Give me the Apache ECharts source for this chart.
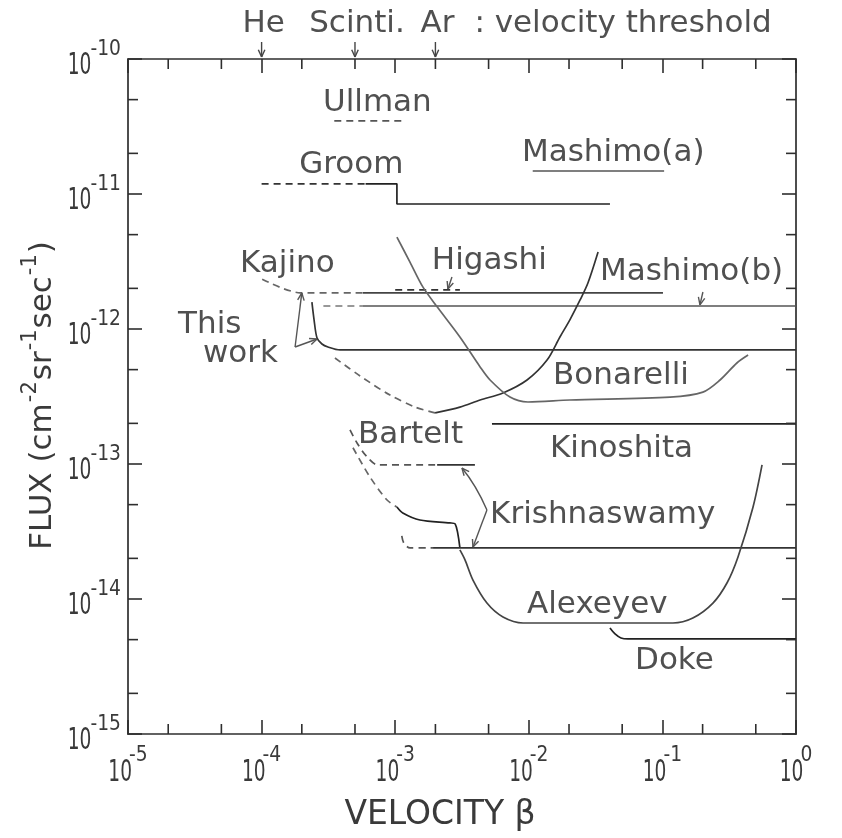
<!DOCTYPE html>
<html>
<head>
<meta charset="utf-8">
<script src="https://cdn.jsdelivr.net/npm/echarts@6/dist/echarts.min.js"></script>
<style>
  html, body { margin: 0; padding: 0; background: #ffffff; }
  #main { width: 842px; height: 838px; }
</style>
</head>
<body>
<div id="main"></div>
<script>
// ---- axis ranges and ticks ----
const betaRange = [1e-5, 1];
const fluxRange = [1e-15, 1e-10];
const majorTicksBeta = [1e-5, 1e-4, 1e-3, 1e-2, 1e-1, 1];
const majorTicksFlux = [1e-15, 1e-14, 1e-13, 1e-12, 1e-11, 1e-10];
const minorTicksBeta = [2e-5, 5e-5, 2e-4, 5e-4, 2e-3, 5e-3, 2e-2, 5e-2, 2e-1, 5e-1];
const minorTicksFlux = [2e-15, 5e-15, 2e-14, 5e-14, 2e-13, 5e-13, 2e-12, 5e-12, 2e-11, 5e-11];

// velocity thresholds marked above the top axis
const thresholdNames = ['He', 'Scinti.', 'Ar'];
const thresholdBeta = [1e-4, 5e-4, 2e-3];
const thresholdNote = ': velocity threshold';

// ---- flux limits, [beta, flux] ----
const ullman = [[3.5e-4, 3.48e-11], [1.18e-3, 3.48e-11]];
const groomDashed = [[1.0e-4, 1.19e-11], [6.0e-4, 1.19e-11]];
const groomSolid = [[6.0e-4, 1.19e-11], [1.03e-3, 1.19e-11], [1.03e-3, 8.43e-12], [4.05e-2, 8.43e-12]];
const mashimoA = [[1.07e-2, 1.48e-11], [1.03e-1, 1.48e-11]];
const kajinoDashed = [[1.01e-4, 2.34e-12], [1.16e-4, 2.19e-12], [1.42e-4, 2.01e-12], [1.69e-4, 1.90e-12], [1.94e-4, 1.85e-12], [5.74e-4, 1.85e-12]];
const kajinoSolid = [[5.74e-4, 1.85e-12], [1.01e-1, 1.85e-12]];
const higashi = [[1.0e-3, 1.95e-12], [3.05e-3, 1.95e-12]];
const mashimoBDashed = [[2.9e-4, 1.48e-12], [5.74e-4, 1.48e-12]];
const mashimoBSolid = [[5.74e-4, 1.48e-12], [1, 1.48e-12]];
const thisWork = [[2.38e-4, 1.58e-12], [2.47e-4, 1.17e-12], [2.60e-4, 8.57e-13], [2.83e-4, 7.74e-13], [3.14e-4, 7.36e-13], [3.86e-4, 7.0e-13], [1, 7.0e-13]];
const monopoleDashed = [[3.54e-4, 6.10e-13], [5.46e-4, 4.49e-13], [9.14e-4, 3.24e-13], [1.41e-3, 2.64e-13], [1.99e-3, 2.39e-13]];
const monopoleSolid = [[1.99e-3, 2.39e-13], [3.05e-3, 2.64e-13], [4.32e-3, 2.98e-13], [6.41e-3, 3.36e-13], [9.70e-3, 4.19e-13], [1.37e-2, 5.89e-13], [1.71e-2, 8.73e-13], [2.03e-2, 1.17e-12], [2.42e-2, 1.64e-12], [2.77e-2, 2.19e-12], [3.30e-2, 3.72e-12]];
const bonarelli = [[1.03e-3, 4.80e-12], [1.29e-3, 3.13e-12], [1.61e-3, 2.05e-12], [2.06e-3, 1.46e-12], [3.05e-3, 8.73e-13], [4.32e-3, 5.24e-13], [5.13e-3, 4.19e-13], [7.23e-3, 3.13e-13], [9.86e-3, 2.88e-13], [2.03e-2, 2.98e-13], [1.14e-1, 3.13e-13], [2.01e-1, 3.41e-13], [2.70e-1, 4.19e-13], [3.61e-1, 5.60e-13], [4.38e-1, 6.41e-13]];
const kinoshita = [[5.3e-3, 1.98e-13], [1, 1.98e-13]];
const barteltDashed = [[4.59e-4, 1.79e-13], [5.18e-4, 1.43e-13], [6.15e-4, 1.13e-13], [7.43e-4, 9.84e-14], [2.06e-3, 9.84e-14]];
const barteltSolid = [[2.06e-3, 9.84e-14], [3.95e-3, 9.84e-14]];
const krishUpperDashed = [[4.83e-4, 1.32e-13], [6.47e-4, 8.02e-14], [8.69e-4, 5.41e-14], [1.03e-3, 4.80e-14]];
const krishUpperSolid = [[1.03e-3, 4.80e-14], [1.14e-3, 4.34e-14], [1.53e-3, 3.85e-14], [2.57e-3, 3.66e-14], [2.81e-3, 3.60e-14], [3.05e-3, 2.39e-14]];
const krishLowerDashed = [[1.12e-3, 2.93e-14], [1.16e-3, 2.60e-14], [1.29e-3, 2.39e-14], [1.92e-3, 2.39e-14]];
const krishLowerSolid = [[1.92e-3, 2.39e-14], [1, 2.39e-14]];
const alexeyev = [[3.05e-3, 2.31e-14], [3.33e-3, 1.95e-14], [3.82e-3, 1.38e-14], [4.86e-3, 9.33e-15], [6.41e-3, 7.36e-15], [9.06e-3, 6.64e-15], [1.20e-1, 6.64e-15], [1.69e-1, 7.23e-15], [2.39e-1, 9.33e-15], [3.05e-1, 1.32e-14], [3.68e-1, 2.05e-14], [4.77e-1, 4.80e-14], [5.57e-1, 9.84e-14]];
const doke = [[4.05e-2, 6.10e-15], [4.42e-2, 5.51e-15], [4.90e-2, 5.14e-15], [5.53e-2, 5.06e-15], [1, 5.06e-15]];

// ---- curve labels: text and its left / middle anchor [beta, flux] ----
const labelTexts = ['Ullman', 'Groom', 'Mashimo(a)', 'Kajino', 'Higashi', 'Mashimo(b)', 'This', 'work', 'Bonarelli', 'Bartelt', 'Kinoshita', 'Krishnaswamy', 'Alexeyev', 'Doke'];
const labelAnchors = [[2.88e-4, 4.89e-11], [1.91e-4, 1.70e-11], [8.89e-3, 2.08e-11], [6.89e-5, 3.13e-12], [1.88e-3, 3.30e-12], [3.41e-2, 2.74e-12], [2.37e-5, 1.11e-12], [3.64e-5, 6.76e-13], [1.52e-2, 4.64e-13], [5.27e-4, 1.70e-13], [1.44e-2, 1.34e-13], [5.13e-3, 4.34e-14], [9.70e-3, 9.33e-15], [6.24e-2, 3.60e-15]];

// straight pointers [from, to]
const pointerArrows = [
  [[1.78e-4, 7.36e-13], [2.00e-4, 1.85e-12]],
  [[1.78e-4, 7.36e-13], [2.60e-4, 8.43e-13]],
  [[2.66e-3, 2.43e-12], [2.48e-3, 1.98e-12]],
  [[2.01e-1, 1.88e-12], [1.91e-1, 1.51e-12]]
];
// curved pointers [from, control, to]
const curvedArrows = [
  [[4.86e-3, 4.56e-14], [4.03e-3, 6.98e-14], [3.16e-3, 9.33e-14]],
  [[4.86e-3, 4.56e-14], [4.32e-3, 3.36e-14], [3.82e-3, 2.43e-14]]
];

// ---- drawing ----
const FONT = "'DejaVu Sans', sans-serif";
const INK = '#2e2e2e';
const TEXT = '#505050';

const chart = echarts.init(document.getElementById('main'), null, { renderer: 'canvas' });

function curve(data, color, dashed, smooth) {
  return {
    type: 'line', data: data, xAxisIndex: 0, yAxisIndex: 0,
    symbol: 'none', silent: true, animation: false,
    smooth: smooth ? 0.3 : false,
    lineStyle: { color: color, width: 1.7, type: dashed ? [7, 5] : 'solid' },
    z: 3
  };
}

function axisCommon(isX) {
  return {
    type: 'log', logBase: 10,
    min: isX ? betaRange[0] : fluxRange[0],
    max: isX ? betaRange[1] : fluxRange[1],
    splitNumber: 5,
    axisLine: { show: true, onZero: false, lineStyle: { color: INK, width: 1.7 } },
    axisTick: { show: true, inside: true, length: 14, lineStyle: { color: INK, width: 1.6 } },
    axisLabel: { show: false },
    splitLine: { show: false },
    minorTick: { show: false }
  };
}

chart.setOption({
  animation: false,
  backgroundColor: '#ffffff',
  grid: { left: 128, right: 46, top: 59, bottom: 104, containLabel: false },
  xAxis: [
    Object.assign(axisCommon(true), { position: 'bottom' }),
    Object.assign(axisCommon(true), { position: 'top' })
  ],
  yAxis: [
    Object.assign(axisCommon(false), { position: 'left' }),
    Object.assign(axisCommon(false), { position: 'right' })
  ],
  series: [
    curve(ullman, '#555', true, false),
    curve(groomDashed, '#333', true, false),
    curve(groomSolid, '#222', false, false),
    curve(mashimoA, '#555', false, false),
    curve(kajinoDashed, '#666', true, true),
    curve(kajinoSolid, '#444', false, false),
    curve(higashi, '#333', true, false),
    curve(mashimoBDashed, '#777', true, false),
    curve(mashimoBSolid, '#555', false, false),
    curve(thisWork, '#333', false, true),
    curve(monopoleDashed, '#666', true, true),
    curve(monopoleSolid, '#333', false, true),
    curve(bonarelli, '#666', false, true),
    curve(kinoshita, '#222', false, false),
    curve(barteltDashed, '#555', true, true),
    curve(barteltSolid, '#333', false, false),
    curve(krishUpperDashed, '#666', true, true),
    curve(krishUpperSolid, '#222', false, true),
    curve(krishLowerDashed, '#555', true, true),
    curve(krishLowerSolid, '#333', false, false),
    curve(alexeyev, '#444', false, true),
    curve(doke, '#222', false, true)
  ]
});

// ---- annotations placed through the axes ----
(function () {
  const measureCtx = document.createElement('canvas').getContext('2d');
  function textWidth(str, size) {
    measureCtx.font = size + 'px ' + FONT;
    return measureCtx.measureText(str).width;
  }
  function toPx(point) {
    return chart.convertToPixel({ xAxisIndex: 0, yAxisIndex: 0 }, point);
  }
  // text element; squeeze narrows the glyphs horizontally (narrow plotter digits)
  function text(str, x, y, size, color, align, rotation, squeeze) {
    return {
      type: 'text', x: x, y: y, rotation: rotation || 0, scaleX: squeeze || 1, silent: true, z: 20,
      style: {
        text: str, font: size + 'px ' + FONT, fill: color,
        textAlign: align, align: align,
        textVerticalAlign: 'middle', verticalAlign: 'middle'
      }
    };
  }
  function segment(a, b, color, width) {
    return {
      type: 'line', silent: true, z: 15,
      shape: { x1: a[0], y1: a[1], x2: b[0], y2: b[1] },
      style: { stroke: color, lineWidth: width || 1.4 }
    };
  }
  function arrowHead(tip, from, color) {
    const ang = Math.atan2(tip[1] - from[1], tip[0] - from[0]);
    const len = 8, spread = 0.42;
    const a = [tip[0] - len * Math.cos(ang - spread), tip[1] - len * Math.sin(ang - spread)];
    const b = [tip[0] - len * Math.cos(ang + spread), tip[1] - len * Math.sin(ang + spread)];
    return [segment(tip, a, color), segment(tip, b, color)];
  }

  const gfx = [];
  const lowCorner = toPx([betaRange[0], fluxRange[0]]);
  const highCorner = toPx([betaRange[1], fluxRange[1]]);
  const plotLeft = lowCorner[0], plotBottom = lowCorner[1];
  const plotRight = highCorner[0], plotTop = highCorner[1];

  // minor ticks at 2 and 5 in every decade, on all four sides
  const MINOR = 10;
  minorTicksBeta.forEach(function (v) {
    const x = toPx([v, fluxRange[0]])[0];
    gfx.push(segment([x, plotBottom], [x, plotBottom - MINOR], INK, 1.6));
    gfx.push(segment([x, plotTop], [x, plotTop + MINOR], INK, 1.6));
  });
  minorTicksFlux.forEach(function (v) {
    const y = toPx([betaRange[0], v])[1];
    gfx.push(segment([plotLeft, y], [plotLeft + MINOR, y], INK, 1.6));
    gfx.push(segment([plotRight, y], [plotRight - MINOR, y], INK, 1.6));
  });

  // power-of-ten tick labels
  const BASE = 31, SUP = 22, SQ_BASE = 0.6, SQ_SUP = 0.85;
  const NUM_INK = '#3a3a3a';
  function expText(v) {
    const e = Math.round(Math.log10(v));
    return e === 0 ? '0' : '-' + Math.abs(e);
  }
  majorTicksBeta.forEach(function (v) {
    const x = toPx([v, fluxRange[0]])[0];
    const s = expText(v);
    const wb = textWidth('10', BASE) * SQ_BASE, ws = textWidth(s, SUP) * SQ_SUP;
    const total = wb + ws - 3;
    const x0 = x - total / 2;
    gfx.push(text('10', x0, plotBottom + 39, BASE, NUM_INK, 'left', 0, SQ_BASE));
    gfx.push(text(s, x0 + wb - 3, plotBottom + 21, SUP, NUM_INK, 'left', 0, SQ_SUP));
  });
  majorTicksFlux.forEach(function (v) {
    const y = toPx([betaRange[0], v])[1];
    const s = expText(v);
    const ws = textWidth(s, SUP) * SQ_SUP;
    const xr = plotLeft - 7;
    gfx.push(text(s, xr, y - 10, SUP, NUM_INK, 'right', 0, SQ_SUP));
    gfx.push(text('10', xr - ws + 1, y + 7, BASE, NUM_INK, 'right', 0, SQ_BASE));
  });

  // threshold markers above the top axis
  const TITLE = 31;
  let lastRight = 0;
  thresholdBeta.forEach(function (v, i) {
    const x = toPx([v, fluxRange[1]])[0];
    gfx.push(segment([x, plotTop - 17], [x, plotTop - 2], '#444', 1.4));
    gfx.push.apply(gfx, arrowHead([x, plotTop - 2], [x, plotTop - 17], '#444'));
    gfx.push(text(thresholdNames[i], x + 2, plotTop - 35, TITLE, TEXT, 'center'));
    lastRight = x + 2 + textWidth(thresholdNames[i], TITLE) / 2;
  });
  gfx.push(text(thresholdNote, lastRight + 20, plotTop - 35, TITLE, TEXT, 'left'));

  // curve labels
  labelTexts.forEach(function (t, i) {
    const p = toPx(labelAnchors[i]);
    gfx.push(text(t, p[0], p[1] + 2, 31, TEXT, 'left'));
  });

  // pointers
  pointerArrows.forEach(function (a) {
    const p0 = toPx(a[0]), p1 = toPx(a[1]);
    gfx.push(segment(p0, p1, '#555', 1.4));
    gfx.push.apply(gfx, arrowHead(p1, p0, '#555'));
  });
  curvedArrows.forEach(function (a) {
    const p0 = toPx(a[0]), c = toPx(a[1]), p1 = toPx(a[2]);
    gfx.push({
      type: 'bezierCurve', silent: true, z: 15,
      shape: { x1: p0[0], y1: p0[1], cpx1: c[0], cpy1: c[1], x2: p1[0], y2: p1[1] },
      style: { stroke: '#555', lineWidth: 1.4, fill: null }
    });
    gfx.push.apply(gfx, arrowHead(p1, c, '#555'));
  });

  // axis titles
  gfx.push(text('VELOCITY \u03b2', 440, plotBottom + 81, 33, NUM_INK, 'center'));

  const yTitleParts = [['FLUX (cm', 0], ['-2', 1], ['sr', 0], ['-1', 1], ['sec', 0], ['-1', 1], [')', 0]];
  const Y_BASE = 31, Y_SUP = 21;
  let yLen = 0;
  yTitleParts.forEach(function (p) { yLen += textWidth(p[0], p[1] ? Y_SUP : Y_BASE) + 1; });
  let yCursor = 395 + yLen / 2;
  const yTitleX = 43;
  yTitleParts.forEach(function (p) {
    const size = p[1] ? Y_SUP : Y_BASE;
    gfx.push(text(p[0], yTitleX - (p[1] ? 12 : 0), yCursor, size, NUM_INK, 'left', Math.PI / 2));
    yCursor -= textWidth(p[0], size) + 1;
  });

  chart.setOption({ graphic: { elements: gfx } });
})();
</script>
</body>
</html>
